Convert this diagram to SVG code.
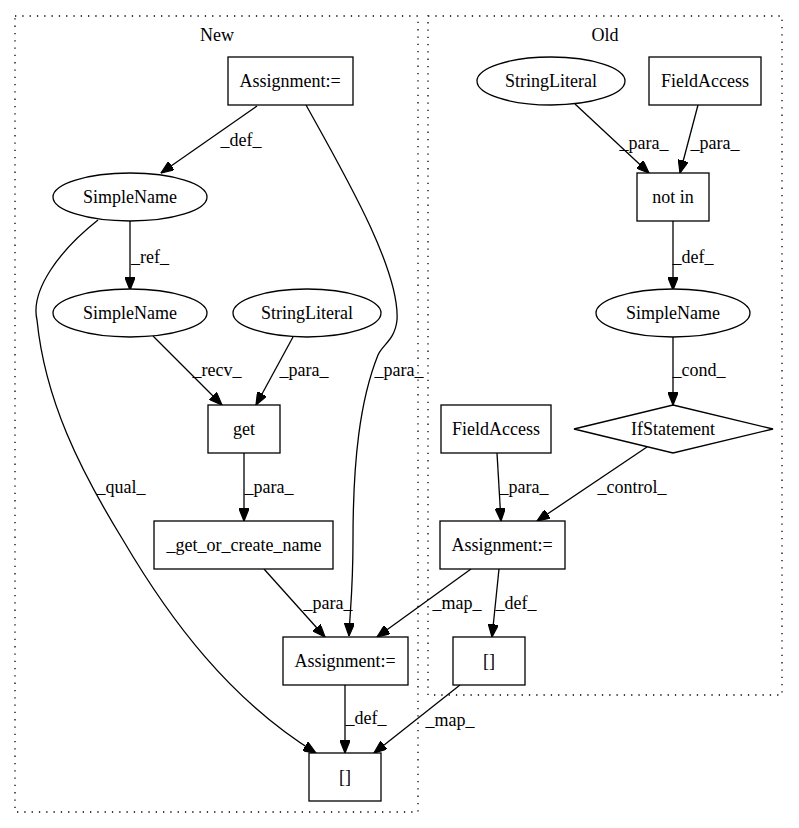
<svg xmlns="http://www.w3.org/2000/svg" width="799" height="828" viewBox="0 0 799 828">
<style>
text{font-family:'Liberation Serif','Times New Roman',Times,'DejaVu Serif','Noto Serif',serif;font-size:18px;fill:#000;text-anchor:middle}
.n{fill:#fff;stroke:#000;stroke-width:1.3}
.c{fill:none;stroke:#000;stroke-width:1.3;stroke-dasharray:1.3,6}
.e{fill:none;stroke:#000;stroke-width:1.3;marker-end:url(#ah)}
</style>
<defs>
<marker id="ah" viewBox="0 0 10 8" markerWidth="13" markerHeight="10" refX="10" refY="4" orient="auto" markerUnits="userSpaceOnUse">
<path d="M0,0 L10,4 L0,8 z" fill="#000" stroke="#000"/>
</marker>
</defs>
<rect width="799" height="828" fill="#fff"/>
<g id="cluster_new">
<rect class="c" x="15" y="16" width="403" height="796"/>
<text x="217" y="41">New</text>
</g>
<g id="cluster_old">
<rect class="c" x="428" y="16" width="354" height="679"/>
<text x="605" y="41">Old</text>
</g>
<g id="edges">
<path class="e" d="M257,106 L161,173"/>
<text x="241" y="146">_def_</text>
<path class="e" d="M306,105 C345,175 400,270 397,320 C395,340 382,345 378,355 C360,400 353,460 353,540 C353,590 350,610 349,636"/>
<text x="399" y="376">_para_</text>
<path class="e" d="M98,220 C60,250 30,290 37,320 C45,400 80,470 123,540 C170,620 230,700 316,753"/>
<text x="121" y="493">_qual_</text>
<path class="e" d="M130,221 L130,290"/>
<text x="150" y="263">_ref_</text>
<path class="e" d="M153,336 L222,405"/>
<text x="217" y="376">_recv_</text>
<path class="e" d="M293,337 L256,405"/>
<text x="304" y="376">_para_</text>
<path class="e" d="M244,453 L244,521"/>
<text x="269" y="493">_para_</text>
<path class="e" d="M264,569 L325,637"/>
<text x="328" y="609">_para_</text>
<path class="e" d="M345,685 L345,753"/>
<text x="366" y="724">_def_</text>
<path class="e" d="M471,569 L377,637"/>
<text x="457" y="609">_map_</text>
<path class="e" d="M499,569 L492,637"/>
<text x="516" y="609">_def_</text>
<path class="e" d="M460,685 L374,753"/>
<text x="450" y="726">_map_</text>
<path class="e" d="M575,104 L649,173"/>
<text x="644" y="149">_para_</text>
<path class="e" d="M698,105 L680,173"/>
<text x="715" y="149">_para_</text>
<path class="e" d="M673,221 L673,290"/>
<text x="693" y="263">_def_</text>
<path class="e" d="M673,337 L673,405"/>
<text x="699" y="376">_cond_</text>
<path class="e" d="M647,447 L537,521"/>
<text x="632" y="493">_control_</text>
<path class="e" d="M497,453 L501,521"/>
<text x="524" y="493">_para_</text>
</g>
<g id="n_assign_new_top"><rect class="n" x="228" y="57" width="125" height="48"/><text x="290" y="87">Assignment:=</text></g>
<g id="n_simplename_new1"><ellipse class="n" cx="130" cy="197" rx="77" ry="24"/><text x="130" y="203">SimpleName</text></g>
<g id="n_simplename_new2"><ellipse class="n" cx="130" cy="313" rx="77" ry="24"/><text x="130" y="319">SimpleName</text></g>
<g id="n_stringliteral_new"><ellipse class="n" cx="307" cy="313" rx="74" ry="24"/><text x="307" y="319">StringLiteral</text></g>
<g id="n_get"><rect class="n" x="208" y="405" width="72" height="48"/><text x="244" y="435">get</text></g>
<g id="n_goc"><rect class="n" x="154" y="521" width="179" height="48"/><text x="244" y="551">_get_or_create_name</text></g>
<g id="n_assign_new_bot"><rect class="n" x="283" y="637" width="125" height="48"/><text x="345" y="667">Assignment:=</text></g>
<g id="n_arr_new"><rect class="n" x="309" y="753" width="72" height="48"/><text x="345" y="783">[]</text></g>
<g id="n_stringliteral_old"><ellipse class="n" cx="551" cy="81" rx="74" ry="24"/><text x="551" y="87">StringLiteral</text></g>
<g id="n_fieldaccess_old1"><rect class="n" x="649" y="57" width="112" height="48"/><text x="705" y="87">FieldAccess</text></g>
<g id="n_notin"><rect class="n" x="637" y="173" width="72" height="48"/><text x="673" y="203">not in</text></g>
<g id="n_simplename_old"><ellipse class="n" cx="673" cy="313" rx="77" ry="24"/><text x="673" y="319">SimpleName</text></g>
<g id="n_if"><polygon class="n" points="673,405 773,429 673,453 574,429"/><text x="673" y="435">IfStatement</text></g>
<g id="n_fieldaccess_old2"><rect class="n" x="441" y="405" width="110" height="48"/><text x="496" y="435">FieldAccess</text></g>
<g id="n_assign_old"><rect class="n" x="440" y="521" width="125" height="48"/><text x="502" y="551">Assignment:=</text></g>
<g id="n_arr_old"><rect class="n" x="453" y="637" width="72" height="48"/><text x="489" y="667">[]</text></g>
</svg>
